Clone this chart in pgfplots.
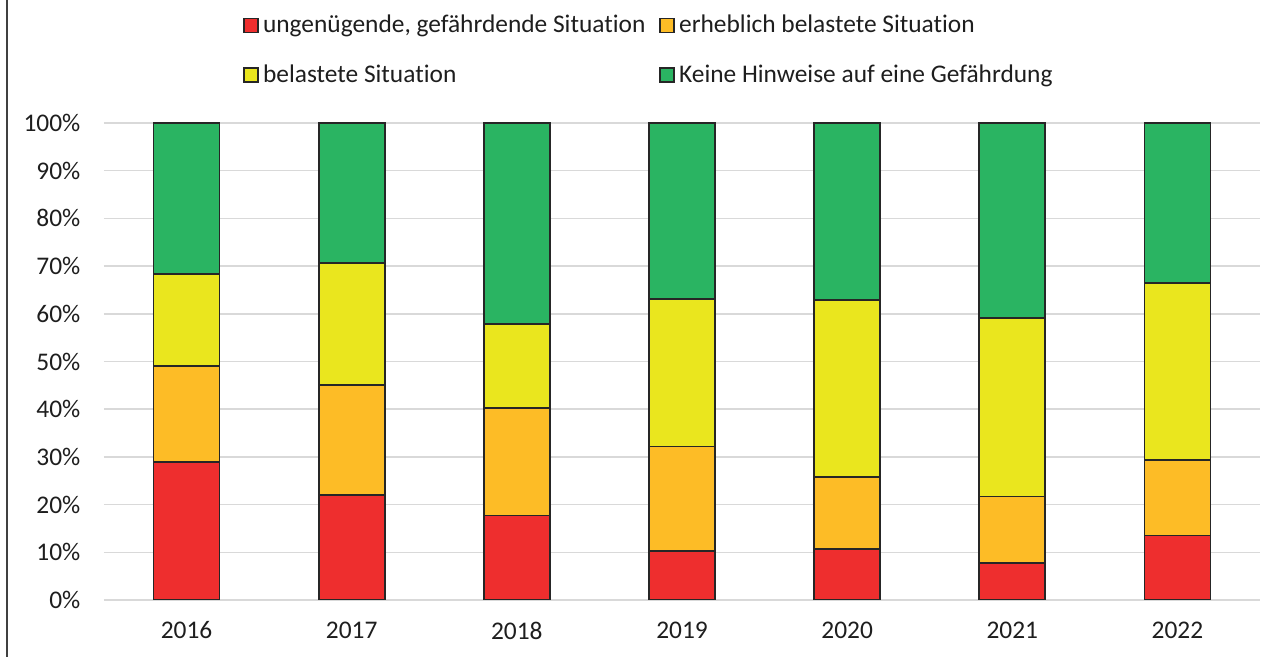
\documentclass[border=0pt]{standalone}
\usepackage{pgfplots}
\pgfplotsset{compat=1.18}
\usepackage{fontspec}
\setmainfont{Carlito}[Ligatures={NoCommon}]
\definecolor{cred}{HTML}{EE2E2E}
\definecolor{corange}{HTML}{FDBC26}
\definecolor{cyellow}{HTML}{EAE61E}
\definecolor{cgreen}{HTML}{2AB462}
\definecolor{edge}{HTML}{262626}
\definecolor{gridc}{HTML}{D9D9D9}
\definecolor{txt}{HTML}{1E1E1E}
\begin{document}
\begin{tikzpicture}
\path[use as bounding box] (0,0) rectangle (638pt,328.5pt);
\draw[color=txt!85, line width=0.6pt] (3.5pt,0) -- (3.5pt,328.5pt);
\begin{axis}[
  at={(52pt,28.5pt)}, anchor=south west,
  scale only axis, width=578pt, height=238.5pt,
  ybar stacked, bar width=33pt,
  xmin=-0.5, xmax=6.5, ymin=0, ymax=100,
  xtick={0,1,2,3,4,5,6},
  xticklabels={2016,2017,2018,2019,2020,2021,2022},
  ytick={0,10,...,100},
  yticklabels={0\%,10\%,20\%,30\%,40\%,50\%,60\%,70\%,80\%,90\%,100\%},
  ymajorgrids, grid style={color=gridc, line width=0.75pt},
  axis line style={draw=none},
  major tick length=0pt,
  /pgf/number format/assume math mode=true,
  tick label style={font=\fontsize{12.7}{15}\selectfont, color=txt},
  xticklabel style={yshift=-7.3pt},
  yticklabel style={xshift=-8.3pt},
  every axis plot/.append style={draw=edge, line width=0.85pt},
  legend columns=2,
  legend image code/.code={\draw[#1] (0pt,-3.5pt) rectangle (7pt,3.5pt);},
  legend style={
    at={(0.1202,1.235)}, anchor=north west, draw=none, fill=none,
    inner sep=0pt,
    font=\fontsize{12.7}{15}\selectfont, text=txt,
    row sep=10.5pt,
    /tikz/every even column/.append style={column sep=5pt},
  },
  legend cell align=left,
]
\addplot[fill=cred] coordinates {(0,28.9) (1,22.0) (2,17.7) (3,10.3) (4,10.7) (5,7.7) (6,13.5)};
\addplot[fill=corange] coordinates {(0,20.2) (1,23.1) (2,22.6) (3,21.9) (4,15.1) (5,14.0) (6,15.9)};
\addplot[fill=cyellow] coordinates {(0,19.3) (1,25.5) (2,17.6) (3,30.9) (4,37.1) (5,37.4) (6,37.0)};
\addplot[fill=cgreen] coordinates {(0,31.6) (1,29.4) (2,42.1) (3,36.9) (4,37.1) (5,40.9) (6,33.6)};
\legend{{ungenügende, gefährdende Situation}, erheblich belastete Situation, belastete Situation, Keine Hinweise auf eine Gefährdung}
\end{axis}
\end{tikzpicture}
\end{document}
